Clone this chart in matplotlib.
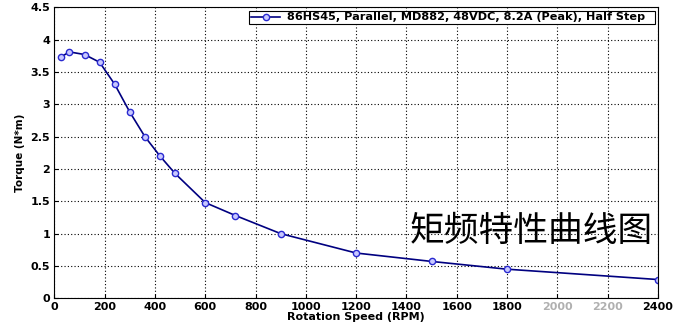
import matplotlib
matplotlib.use("Agg")
import matplotlib.pyplot as plt

speed_rpm = [25, 60, 120, 180, 240, 300, 360, 420, 480, 600, 720, 900, 1200, 1500, 1800, 2400]
torque_nm = [3.73, 3.81, 3.77, 3.65, 3.31, 2.88, 2.50, 2.20, 1.93, 1.48, 1.28, 1.00, 0.70, 0.57, 0.45, 0.29]
x_ticks = [0, 200, 400, 600, 800, 1000, 1200, 1400, 1600, 1800, 2000, 2200, 2400]
y_ticks = [0, 0.5, 1, 1.5, 2, 2.5, 3, 3.5, 4, 4.5]
y_tick_labels = ["0", "0.5", "1", "1.5", "2", "2.5", "3", "3.5", "4", "4.5"]
faded_x_ticks = [2000, 2200]
legend_label = "86HS45, Parallel, MD882, 48VDC, 8.2A (Peak), Half Step"
overlay_text = "矩频特性曲线图"

fig = plt.figure(figsize=(6.8, 3.26), dpi=100)
ax = fig.add_axes([0.0799, 0.085, 0.8877, 0.8926])

ax.plot(speed_rpm, torque_nm, color="#000080", lw=1.2, marker="o", ms=4.5,
        mfc="#c8c8ff", mec="#2a2ad0", mew=1.0, label=legend_label + "  ")

ax.set_xlim(0, 2400)
ax.set_ylim(0, 4.5)
ax.set_xticks(x_ticks)
ax.set_yticks(y_ticks)
ax.set_yticklabels(y_tick_labels)
ax.grid(True, color="black", linestyle=(0, (1, 2)), lw=0.8)
ax.tick_params(direction="in", length=3, labelsize=8, pad=3)
for lab in ax.get_xticklabels() + ax.get_yticklabels():
    lab.set_fontweight("bold")
    lab.set_family("DejaVu Sans")
for val, lab in zip(x_ticks, ax.get_xticklabels()):
    if val in faded_x_ticks:
        lab.set_color("#b0b0b0")

ax.set_xlabel("Rotation Speed (RPM)", fontsize=8, fontweight="bold",
              family="DejaVu Sans", labelpad=0)
ax.set_ylabel("Torque (N*m)", fontsize=7.5, fontweight="bold",
              family="DejaVu Sans", labelpad=4)

leg = ax.legend(loc="upper right", bbox_to_anchor=(0.9945, 0.988), fancybox=False,
                framealpha=1, edgecolor="black", borderpad=0.15, borderaxespad=0,
                handlelength=2.6, handletextpad=0.6,
                prop={"family": "DejaVu Sans", "weight": "bold", "size": 8.1})
leg.get_frame().set_linewidth(0.8)

fig.text(0.603, 0.29, overlay_text, fontsize=25, family=["Noto Sans CJK SC", "DejaVu Sans"],
         fontweight="light", color="black", va="center", ha="left")

fig.savefig("out.png", dpi=100)
